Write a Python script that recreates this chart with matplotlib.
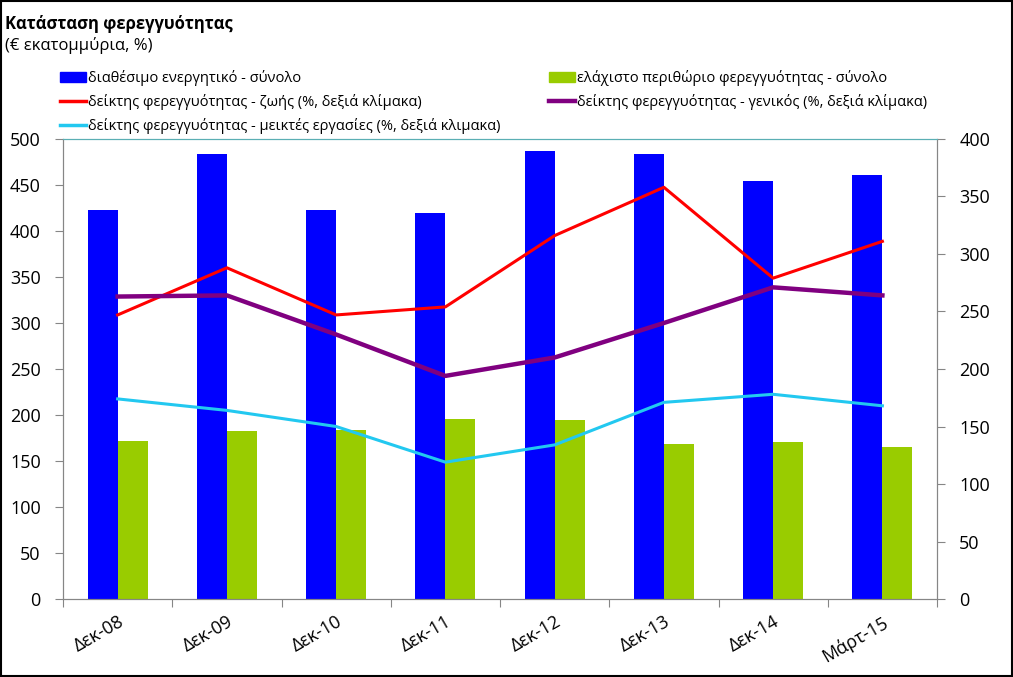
import numpy as np
import matplotlib.pyplot as plt
from matplotlib.lines import Line2D
from matplotlib.patches import Patch

plt.rcParams['font.family'] = ['Open Sans', 'DejaVu Sans']

# data
periods = ['Δεκ-08', 'Δεκ-09', 'Δεκ-10', 'Δεκ-11', 'Δεκ-12', 'Δεκ-13', 'Δεκ-14', 'Μάρτ-15']
assets_total = [423, 484, 423, 420, 487, 484, 454, 461]
min_margin = [172, 183, 184, 196, 195, 168, 171, 165]
ratio_life = [247, 288, 247, 254, 316, 358, 279, 311]
ratio_general = [263, 264, 230, 194, 210, 240, 271, 264]
ratio_mixed = [174, 164, 150, 119, 134, 171, 178, 168]

labels = ['διαθέσιμο ενεργητικό - σύνολο',
          'ελάχιστο περιθώριο φερεγγυότητας - σύνολο',
          'δείκτης φερεγγυότητας - ζωής (%, δεξιά κλίμακα)',
          'δείκτης φερεγγυότητας - γενικός (%, δεξιά κλίμακα)',
          'δείκτης φερεγγυότητας - μεικτές εργασίες (%, δεξιά κλιμακα)']

c_blue = '#0000FF'
c_green = '#99CC00'
c_red = '#FF0000'
c_purple = '#800080'
c_cyan = '#22C8F0'
spine_col = '#868686'

fig = plt.figure(figsize=(10.13, 6.77), dpi=100)
ax = fig.add_axes([0.0622, 0.1152, 0.8628, 0.6795])
ax2 = ax.twinx()

x = np.arange(len(periods))
w = 0.275
ax.bar(x - w / 2, assets_total, w, color=c_blue, zorder=2)
ax.bar(x + w / 2, min_margin, w, color=c_green, zorder=2)

ax2.plot(x, ratio_life, color=c_red, lw=2.2)
ax2.plot(x, ratio_general, color=c_purple, lw=3.2)
ax2.plot(x, ratio_mixed, color=c_cyan, lw=2.2)

ax.set_xlim(-0.5, len(periods) - 0.5)
ax.set_ylim(0, 500)
ax2.set_ylim(0, 400)
ax.set_yticks(np.arange(0, 501, 50))
ax2.set_yticks(np.arange(0, 401, 50))

# ticks on category boundaries, labels in the middle
ax.set_xticks(np.arange(-0.5, len(periods), 1.0))
ax.set_xticklabels([])
ax.set_xticks(x, minor=True)
ax.set_xticklabels(periods, minor=True, rotation=30, ha='right',
                   rotation_mode='anchor', fontsize=13)
ax.tick_params(axis='x', which='minor', length=0, pad=10)
ax.tick_params(axis='x', which='major', length=6, color=spine_col, direction='out')
ax.tick_params(axis='y', length=6, color=spine_col, labelsize=13, pad=10)
ax2.tick_params(axis='y', length=6, color=spine_col, labelsize=13, pad=10)

for a in (ax, ax2):
    for s in ('left', 'right', 'bottom'):
        a.spines[s].set_color(spine_col)
    a.spines['top'].set_color('#5AAFB4')

handles = [Patch(color=c_blue), Line2D([], [], color=c_red, lw=2.5),
           Line2D([], [], color=c_cyan, lw=2.5),
           Patch(color=c_green), Line2D([], [], color=c_purple, lw=3.2)]
hlabels = [labels[0], labels[2], labels[4], labels[1], labels[3]]
fig.legend(handles, hlabels, ncol=2, loc='upper left', bbox_to_anchor=(0.053, 0.905),
           frameon=False, fontsize=10.5, handlelength=1.8, handletextpad=0.15,
           labelspacing=0.55, columnspacing=3.3, borderaxespad=0)

fig.text(0.005, 0.965, 'Κατάσταση φερεγγυότητας', fontsize=12, fontweight='bold', va='center')
fig.text(0.005, 0.933, '(€ εκατομμύρια, %)', fontsize=12, va='center')

fig.patches.append(plt.Rectangle((0.001, 0.001), 0.998, 0.998, transform=fig.transFigure,
                                 fill=False, edgecolor='black', lw=1.5))

fig.savefig('out.png', dpi=100)
